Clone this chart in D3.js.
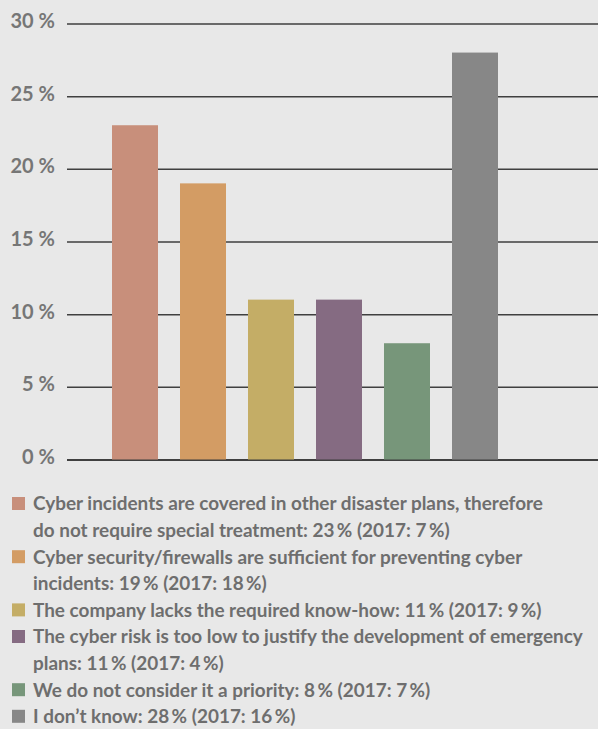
<!DOCTYPE html>
<html>
<head>
<meta charset="utf-8">
<script src="https://cdn.jsdelivr.net/npm/d3@7"></script>
<style>
  html, body { margin: 0; padding: 0; background: #e8e8e8; }
  svg { display: block; }
</style>
</head>
<body>
<svg id="chart" width="598" height="729"></svg>
<script>
// Reasons for not having a cyber emergency plan (share of respondents, %)
const categories = [
  "Cyber incidents are covered in other disaster plans, therefore\ndo not require special treatment",
  "Cyber security/firewalls are sufficient for preventing cyber\nincidents",
  "The company lacks the required know-how",
  "The cyber risk is too low to justify the development of emergency\nplans",
  "We do not consider it a priority",
  "I don\u2019t know"
];
const values = [23, 19, 11, 11, 8, 28];
const values2017 = [7, 18, 9, 4, 7, 16];
const colors = ["#c88f7b", "#d39c64", "#c4ad66", "#856b82", "#77967a", "#878787"];
const yTicks = [0, 5, 10, 15, 20, 25, 30];

const THIN = "\u2009";
const svg = d3.select("#chart");

const x = d3.scaleBand()
  .domain(d3.range(categories.length))
  .range([101, 509])
  .paddingInner(0.3235)
  .paddingOuter(0.1618);

const y = d3.scaleLinear().domain([0, 30]).range([459.5, 23.5]);

// horizontal grid lines, drawn behind the bars
const yAxis = d3.axisLeft(y)
  .tickValues(yTicks)
  .tickSize(-(598 - 67))
  .tickPadding(12)
  .tickFormat(d => d + "\u2005%");

const axisG = svg.append("g")
  .attr("transform", "translate(67,0)")
  .call(yAxis);
axisG.select(".domain").remove();
axisG.selectAll(".tick line")
  .attr("stroke", "#3f3f3f")
  .attr("stroke-width", d => d === 0 ? 2 : 1.5);
axisG.selectAll(".tick text")
  .attr("fill", "#767676")
  .attr("x", -12)
  .attr("dy", "0.2em")
  .style("font-family", "Lato, 'Open Sans', sans-serif")
  .style("font-weight", "700")
  .style("font-size", "20px");

// bars
svg.append("g")
  .selectAll("rect")
  .data(values)
  .join("rect")
  .attr("x", (d, i) => x(i))
  .attr("width", x.bandwidth())
  .attr("y", d => y(d))
  .attr("height", d => y(0) - y(d))
  .attr("fill", (d, i) => colors[i]);

// legend
const legendTop = 510.5;
const lineStep = 26.6;
const legend = svg.append("g");
let lineIndex = 0;
categories.forEach((label, i) => {
  const full = label + ": " + values[i] + THIN + "% (2017: " + values2017[i] + THIN + "%)";
  const lines = full.split("\n");
  const baseY = legendTop + lineIndex * lineStep;
  legend.append("rect")
    .attr("x", 12)
    .attr("y", baseY - 13.5)
    .attr("width", 13)
    .attr("height", 13)
    .attr("fill", colors[i]);
  lines.forEach((ln, j) => {
    legend.append("text")
      .attr("class", "legend-line")
      .attr("x", 33)
      .attr("y", legendTop + (lineIndex + j) * lineStep)
      .attr("fill", "#6e6e6e")
      .style("font-family", "Lato, 'Open Sans', sans-serif")
      .style("font-weight", "700")
      .style("font-size", "19px")
      .text(ln);
  });
  lineIndex += lines.length;
});

// condense legend text horizontally to the narrow face width
const first = legend.select(".legend-line").node();
const natural = first.getComputedTextLength();
const sx = 510 / natural;
legend.selectAll(".legend-line")
  .attr("transform", `translate(${33 * (1 - sx)},0) scale(${sx},1)`);
</script>
</body>
</html>
